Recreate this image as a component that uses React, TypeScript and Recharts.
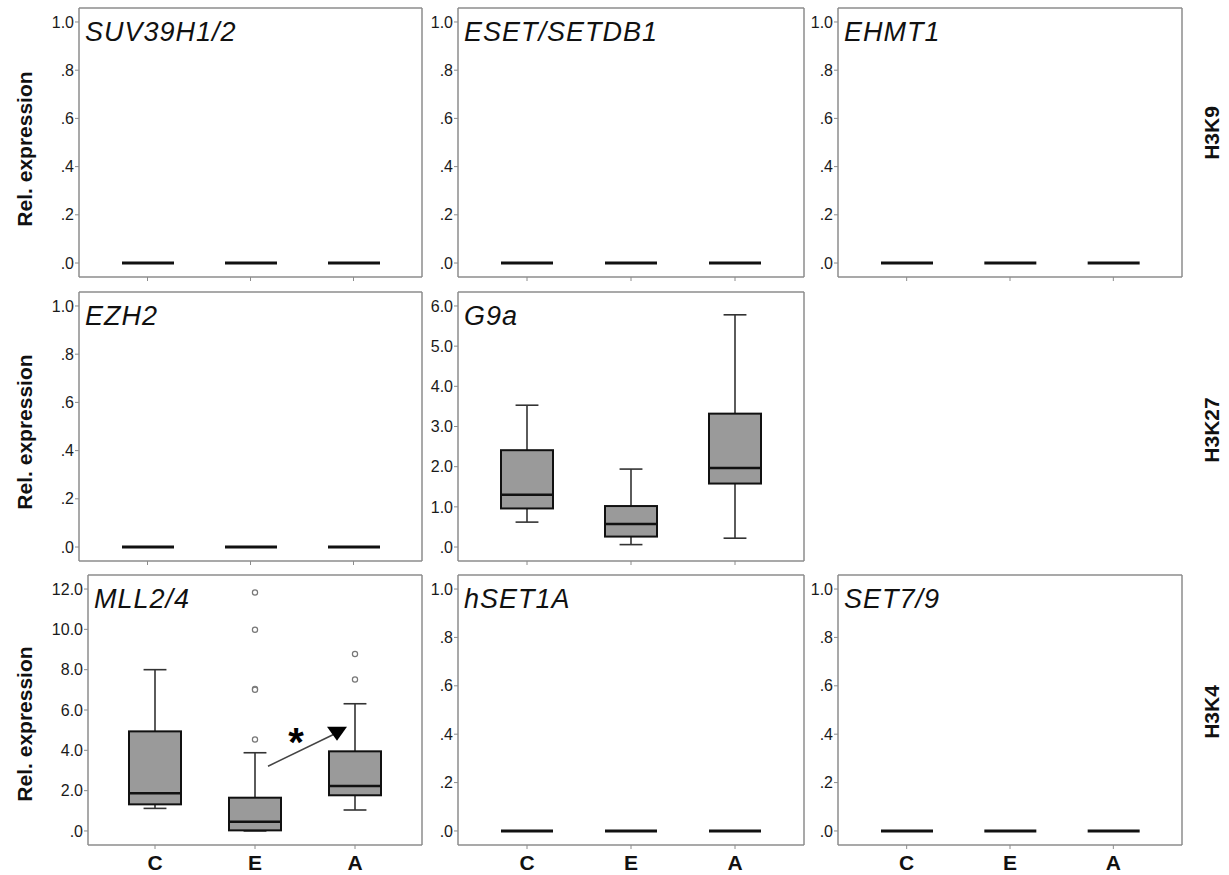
import React from 'react';
import {
  ComposedChart,
  Bar,
  Scatter,
  XAxis,
  YAxis,
  CartesianGrid,
  ReferenceLine,
} from 'recharts';

// groups: control, early, advanced
const groups = ['C', 'E', 'A'];

// y tick values
const unitTicks = [0, 0.2, 0.4, 0.6, 0.8, 1.0];
const g9aTicks = [0, 1, 2, 3, 4, 5, 6];
const mllTicks = [0, 2, 4, 6, 8, 10, 12];

// panels where every group sits on zero
const flatLevel = [0, 0, 0];

// G9a box stats
const g9aMin = [0.62, 0.06, 0.22];
const g9aQ1 = [0.96, 0.26, 1.58];
const g9aMedian = [1.3, 0.57, 1.97];
const g9aQ3 = [2.41, 1.02, 3.32];
const g9aMax = [3.53, 1.94, 5.78];

// MLL2/4 box stats
const mllMin = [1.12, 0.0, 1.04];
const mllQ1 = [1.32, 0.03, 1.77];
const mllMedian = [1.87, 0.46, 2.23];
const mllQ3 = [4.94, 1.65, 3.95];
const mllMax = [8.0, 3.88, 6.31];
const mllOutliersE = [11.83, 9.98, 7.05, 7.0, 4.54];
const mllOutliersA = [8.78, 7.51];

const toBoxes = (min: number[], q1: number[], median: number[], q3: number[], max: number[]) =>
  groups.map((group, i) => ({ group, min: min[i], q1: q1[i], median: median[i], q3: q3[i], max: max[i] }));

const flatBoxes = toBoxes(flatLevel, flatLevel, flatLevel, flatLevel, flatLevel);
const g9aBoxes = toBoxes(g9aMin, g9aQ1, g9aMedian, g9aQ3, g9aMax);
const mllBoxes = toBoxes(mllMin, mllQ1, mllMedian, mllQ3, mllMax);
const mllOutliers = [
  ...mllOutliersE.map((value) => ({ group: 'E', value })),
  ...mllOutliersA.map((value) => ({ group: 'A', value })),
];

const FONT = '"Liberation Sans", Arial, Helvetica, sans-serif';
const FRAME = '#8c8c8c';

// frame layout (plot area edges)
const colLeft = [79, 458, 838];
const colRight = [422, 804, 1182];
const rowTop = [8, 292, 575];
const rowBottom = [277, 561, 845];
const Y_W = 50;

const fmtTick = (v: number) => {
  const s = v.toFixed(1);
  return s.startsWith('0.') ? s.slice(1) : s;
};

const BoxShape = (props: any) => {
  const { x, y, width, height, payload } = props;
  const { min, q1, median, q3, max } = payload;
  const top = Math.min(y, y + height);
  const bottom = Math.max(y, y + height);
  const span = max - min;
  const toY = (v: number) => (span > 0 ? bottom - ((v - min) / span) * (bottom - top) : top);
  const cx = x + width / 2;
  if (span === 0) {
    return <line x1={x} x2={x + width} y1={top} y2={top} stroke="#111" strokeWidth={3} />;
  }
  const cap = width * 0.22;
  return (
    <g>
      <line x1={cx} x2={cx} y1={toY(max)} y2={toY(q3)} stroke="#333" strokeWidth={1.6} />
      <line x1={cx} x2={cx} y1={toY(q1)} y2={toY(min)} stroke="#333" strokeWidth={1.6} />
      <line x1={cx - cap} x2={cx + cap} y1={toY(max)} y2={toY(max)} stroke="#333" strokeWidth={1.6} />
      <line x1={cx - cap} x2={cx + cap} y1={toY(min)} y2={toY(min)} stroke="#333" strokeWidth={1.6} />
      <rect
        x={x}
        y={toY(q3)}
        width={width}
        height={Math.max(toY(q1) - toY(q3), 0.5)}
        fill="#9a9a9a"
        stroke="#111"
        strokeWidth={2}
      />
      <line x1={x} x2={x + width} y1={toY(median)} y2={toY(median)} stroke="#111" strokeWidth={2.5} />
    </g>
  );
};

const OutlierDot = (props: any) => (
  <circle cx={props.cx} cy={props.cy} r={2.6} fill="#fff" stroke="#777" strokeWidth={1.2} />
);

const TrendArrow = (props: any) => {
  const { x1, y1, x2, y2 } = props;
  const at = (t: number) => [x1 + (x2 - x1) * t, y1 + (y2 - y1) * t];
  const [sx, sy] = at(0.13);
  const [ex, ey] = at(0.79);
  const [tx, ty] = at(0.82);
  const [ax, ay] = at(0.39);
  return (
    <g>
      <line x1={sx} y1={sy} x2={ex} y2={ey} stroke="#444" strokeWidth={1.5} />
      <polygon points={`${tx - 10},${ty - 6} ${tx + 10},${ty - 6} ${tx},${ty + 8}`} fill="#000" />
      <text x={ax + 2} y={ay + 2} fontSize={40} fontWeight="bold" textAnchor="middle" fill="#000">
        *
      </text>
    </g>
  );
};

interface PanelProps {
  title: string;
  data: any[];
  ticks: number[];
  row: number;
  col: number;
  left?: number;
  showGroups?: boolean;
  outliers?: any[];
  arrow?: { from: { x: string; y: number }; to: { x: string; y: number } };
}

const Panel = ({ title, data, ticks, row, col, left, showGroups, outliers, arrow }: PanelProps) => {
  const L = left ?? colLeft[col];
  const R = colRight[col];
  const T = rowTop[row];
  const B = rowBottom[row];
  const xh = showGroups ? 34 : 8;
  const w = R - L + Y_W + 2;
  const h = B - T + 2 + xh;
  const maxTick = ticks[ticks.length - 1];
  const pad = maxTick * 0.058;

  return (
    <>
      <div style={{ position: 'absolute', left: L - Y_W, top: T - 2, width: w, height: h }}>
        <ComposedChart width={w} height={h} data={data} margin={{ top: 2, right: 2, left: 0, bottom: 0 }}>
          <CartesianGrid
            stroke={FRAME}
            strokeWidth={1.5}
            horizontalCoordinatesGenerator={({ offset }: any) => [offset.top, offset.top + offset.height]}
            verticalCoordinatesGenerator={({ offset }: any) => [offset.left, offset.left + offset.width]}
          />
          <XAxis
            dataKey="group"
            type="category"
            allowDuplicatedCategory={false}
            padding={{ left: 17, right: 17 }}
            height={xh}
            axisLine={false}
            tickLine={{ stroke: FRAME }}
            tickSize={4}
            tickMargin={6}
            tick={showGroups ? { fontSize: 21, fontWeight: 'bold', fill: '#111' } : () => <g />}
          />
          <YAxis
            type="number"
            domain={[-pad, maxTick + pad]}
            allowDataOverflow
            ticks={ticks}
            interval={0}
            width={Y_W}
            axisLine={false}
            tickLine={{ stroke: FRAME }}
            tickSize={4}
            tickMargin={1}
            tickFormatter={fmtTick}
            tick={{ fontSize: 16, fill: '#1a1a1a' }}
          />
          <Bar
            dataKey={(d: any) => [d.min, d.max]}
            barSize={52}
            shape={BoxShape}
            isAnimationActive={false}
          />
          {outliers && (
            <Scatter data={outliers} dataKey="value" shape={OutlierDot} isAnimationActive={false} />
          )}
          {arrow && (
            <ReferenceLine segment={[arrow.from, arrow.to]} shape={TrendArrow} ifOverflow="visible" />
          )}
        </ComposedChart>
      </div>
      <div
        style={{
          position: 'absolute',
          left: L + 6,
          top: T + 11,
          fontSize: 27,
          lineHeight: 1,
          fontStyle: 'italic',
          letterSpacing: 1,
          color: '#111',
          whiteSpace: 'nowrap',
        }}
      >
        {title}
      </div>
    </>
  );
};

const SideLabel = ({ text, x, y }: { text: string; x: number; y: number }) => (
  <div
    style={{
      position: 'absolute',
      left: x - 150,
      top: y - 13,
      width: 300,
      height: 26,
      lineHeight: '26px',
      textAlign: 'center',
      fontSize: 21,
      fontWeight: 'bold',
      color: '#111',
      transform: 'rotate(-90deg)',
      whiteSpace: 'nowrap',
    }}
  >
    {text}
  </div>
);

export default function App() {
  return (
    <div
      style={{
        position: 'absolute',
        left: 0,
        top: 0,
        width: 1229,
        height: 875,
        background: '#fff',
        fontFamily: FONT,
        overflow: 'hidden',
      }}
    >
      <Panel title="SUV39H1/2" data={flatBoxes} ticks={unitTicks} row={0} col={0} />
      <Panel title="ESET/SETDB1" data={flatBoxes} ticks={unitTicks} row={0} col={1} />
      <Panel title="EHMT1" data={flatBoxes} ticks={unitTicks} row={0} col={2} />
      <Panel title="EZH2" data={flatBoxes} ticks={unitTicks} row={1} col={0} />
      <Panel title="G9a" data={g9aBoxes} ticks={g9aTicks} row={1} col={1} />
      <Panel
        title="MLL2/4"
        data={mllBoxes}
        ticks={mllTicks}
        row={2}
        col={0}
        left={88}
        showGroups
        outliers={mllOutliers}
        arrow={{ from: { x: 'E', y: 2.9 }, to: { x: 'A', y: 5.3 } }}
      />
      <Panel title="hSET1A" data={flatBoxes} ticks={unitTicks} row={2} col={1} showGroups />
      <Panel title="SET7/9" data={flatBoxes} ticks={unitTicks} row={2} col={2} showGroups />

      <SideLabel text="Rel. expression" x={25} y={149} />
      <SideLabel text="Rel. expression" x={25} y={432} />
      <SideLabel text="Rel. expression" x={25} y={724} />
      <SideLabel text="H3K9" x={1212} y={133} />
      <SideLabel text="H3K27" x={1212} y={430} />
      <SideLabel text="H3K4" x={1212} y={712} />
    </div>
  );
}
